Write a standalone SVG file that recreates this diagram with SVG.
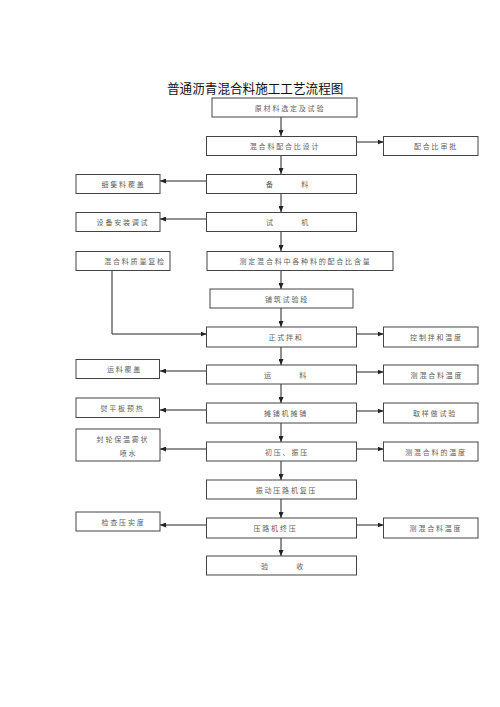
<svg xmlns="http://www.w3.org/2000/svg" width="500" height="707" viewBox="0 0 500 707">
<defs>
<marker id="ah" markerWidth="6" markerHeight="5" refX="6" refY="2.5" orient="auto" markerUnits="userSpaceOnUse">
<path d="M0,0 L6,2.5 L0,5 Z" fill="#222"/>
</marker>
<style>
.b{fill:#fff;stroke:#444;stroke-width:1}
.t{font-family:"Noto Sans CJK SC","Noto Sans CJK TC",sans-serif;font-size:7px;fill:#606060;letter-spacing:1.8px;text-anchor:middle}
.c{fill:none;stroke:#222;stroke-width:1;marker-end:url(#ah)}
.title{font-family:"Noto Sans CJK SC","Noto Sans CJK TC",sans-serif;font-size:12.6px;fill:#111}
</style>
</defs>
<rect width="500" height="707" fill="#fff"/>
<text class="title" x="167" y="93">普通沥青混合料施工工艺流程图</text>

<g id="connectors">
<path class="c" d="M281,117 V136"/>
<path class="c" d="M281,155.5 V174"/>
<path class="c" d="M281,193.5 V212"/>
<path class="c" d="M281,231.5 V251"/>
<path class="c" d="M281,270.5 V289"/>
<path class="c" d="M281,308 V327"/>
<path class="c" d="M281,347 V365"/>
<path class="c" d="M281,384 V403"/>
<path class="c" d="M281,423 V442"/>
<path class="c" d="M281,461 V480"/>
<path class="c" d="M281,499 V518"/>
<path class="c" d="M281,538 V556"/>
<path class="c" d="M356.5,142 H383.5"/>
<path class="c" d="M356.5,334 H383.5"/>
<path class="c" d="M356.5,372 H383.5"/>
<path class="c" d="M356.5,411 H383.5"/>
<path class="c" d="M356.5,449 H383.5"/>
<path class="c" d="M356.5,525 H383.5"/>
<path class="c" d="M206.5,181 H160"/>
<path class="c" d="M206.5,219 H160"/>
<path class="c" d="M206.5,371 H160"/>
<path class="c" d="M206.5,410 H160"/>
<path class="c" d="M206.5,449 H160"/>
<path class="c" d="M206.5,525 H160"/>
<path class="c" d="M112,270.5 V334 H206.5"/>
</g>

<g id="n1"><rect class="b" x="212" y="98" width="145" height="19"/><text class="t" x="290" y="110.5">原材料选定及试验</text></g>
<g id="n2"><rect class="b" x="206.5" y="136.5" width="150" height="19"/><text class="t" x="285" y="149">混合料配合比设计</text></g>
<g id="n2r"><rect class="b" x="383.5" y="136.5" width="94.5" height="19"/><text class="t" x="436" y="149">配合比审批</text></g>
<g id="n3"><rect class="b" x="206.5" y="174.5" width="150" height="19"/><text class="t" x="288" y="187">备　　　料</text></g>
<g id="n3l"><rect class="b" x="76" y="174.5" width="84" height="19"/><text class="t" x="123.5" y="187">细集料覆盖</text></g>
<g id="n4"><rect class="b" x="206.5" y="212.5" width="150" height="19"/><text class="t" x="288" y="225">试　　　机</text></g>
<g id="n4l"><rect class="b" x="76" y="212.5" width="84" height="19"/><text class="t" x="123" y="225">设备安装调试</text></g>
<g id="n5"><rect class="b" x="207" y="251.5" width="186" height="19"/><text class="t" x="305.5" y="264">测定混合料中各种料的配合比含量</text></g>
<g id="n5l"><rect class="b" x="76" y="251.5" width="94" height="19"/><text class="t" x="135" y="264">混合料质量复检</text></g>
<g id="n6"><rect class="b" x="210" y="289" width="143" height="19"/><text class="t" x="287" y="301.5">铺筑试验段</text></g>
<g id="n7"><rect class="b" x="206.5" y="327" width="150" height="20"/><text class="t" x="286" y="340">正式拌和</text></g>
<g id="n7r"><rect class="b" x="383.5" y="327" width="94.5" height="20"/><text class="t" x="436.5" y="340">控制拌和温度</text></g>
<g id="n8"><rect class="b" x="206.5" y="365" width="150" height="19"/><text class="t" x="286" y="377.5">运　　　料</text></g>
<g id="n8l"><rect class="b" x="76" y="359.5" width="83.5" height="19"/><text class="t" x="124.5" y="372">运料覆盖</text></g>
<g id="n8r"><rect class="b" x="383.5" y="365" width="94.5" height="19"/><text class="t" x="437" y="377.5">测混合料温度</text></g>
<g id="n9"><rect class="b" x="206.5" y="403" width="150" height="20"/><text class="t" x="286" y="416">摊铺机摊铺</text></g>
<g id="n9l"><rect class="b" x="76" y="398" width="83.5" height="19.5"/><text class="t" x="122.5" y="410.5">熨平板预热</text></g>
<g id="n9r"><rect class="b" x="383.5" y="403" width="94.5" height="20"/><text class="t" x="435" y="416">取样做试验</text></g>
<g id="n10"><rect class="b" x="206.5" y="442" width="150" height="19"/><text class="t" x="287" y="454.5">初压、振压</text></g>
<g id="n10l"><rect class="b" x="76" y="429" width="84" height="32"/><text class="t" x="123" y="441.5">封轮保温雾状</text><text class="t" x="128.5" y="456">喷水</text></g>
<g id="n10r"><rect class="b" x="383.5" y="442" width="94.5" height="19"/><text class="t" x="436" y="454.5">测混合料的温度</text></g>
<g id="n11"><rect class="b" x="206.5" y="480" width="150" height="19"/><text class="t" x="286.5" y="492.5">振动压路机复压</text></g>
<g id="n12"><rect class="b" x="206.5" y="518" width="150" height="20"/><text class="t" x="275.5" y="531">压路机终压</text></g>
<g id="n12l"><rect class="b" x="76" y="512" width="84" height="19"/><text class="t" x="123.5" y="524.5">检查压实度</text></g>
<g id="n12r"><rect class="b" x="383.5" y="518" width="94.5" height="20"/><text class="t" x="436" y="531">测混合料温度</text></g>
<g id="n13"><rect class="b" x="206.5" y="556" width="150" height="19"/><text class="t" x="283" y="568.5">验　　　收</text></g>
</svg>
